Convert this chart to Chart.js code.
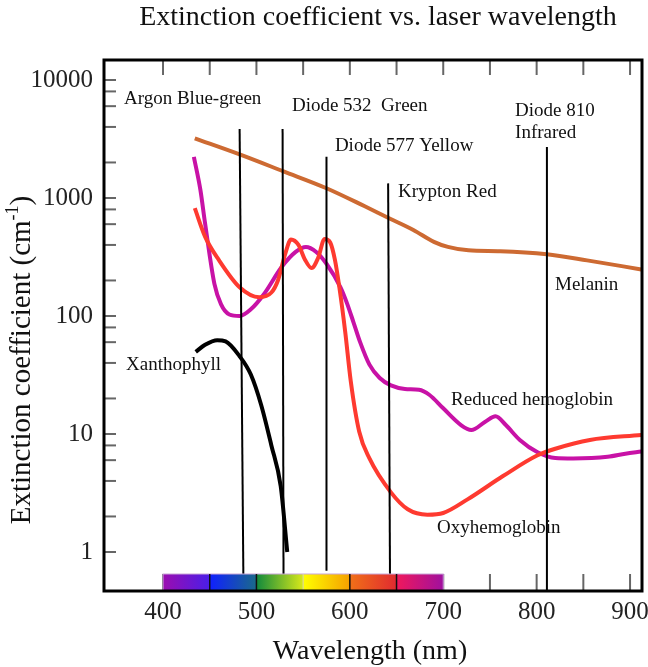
<!DOCTYPE html>
<html><head><meta charset="utf-8">
<script src="https://cdn.jsdelivr.net/npm/chart.js@4.4.1/dist/chart.umd.min.js"></script>
<style>html,body{margin:0;padding:0;background:#fff;}#wrap{width:648px;height:667px;}</style>
</head><body><div id="wrap"><canvas id="c" width="648" height="667"></canvas></div>
<script>
// ---- data ----
const melaninNm  = [434, 482, 529, 575, 616, 642, 668, 690, 705, 727, 761, 811, 854, 912];
const melaninVal = [3200, 2340, 1680, 1210, 850, 673, 536, 425, 385, 360, 354, 333, 296, 248];

const oxyNm  = [434, 445, 460, 482, 503, 516, 523, 531, 537, 545, 552, 559, 566, 573, 579, 584, 589, 595, 601, 610, 621, 644, 662, 683, 700, 726, 764, 801, 820, 857, 912];
const oxyVal = [820, 470, 296, 175, 144, 158, 200, 340, 445, 400, 300, 255, 310, 450, 420, 300, 170, 74, 28, 10.5, 6.2, 3.2, 2.3, 2.07, 2.14, 2.79, 4.4, 6.6, 7.5, 8.9, 9.8];

const redNm  = [433, 440, 445, 455, 462, 471, 482, 494, 508, 527, 542, 553, 564, 575, 590, 597, 604, 611, 621, 632, 644, 659, 674, 685, 700, 719, 730, 745, 756, 767, 782, 801, 820, 839, 876, 895, 912];
const redVal = [2230, 1170, 610, 187, 126, 103, 100, 114, 153, 260, 349, 385, 349, 277, 175, 128, 88, 60, 38.7, 29.8, 25.8, 24.1, 23.7, 21.5, 16.5, 11.9, 10.8, 12.7, 14.1, 11.9, 8.9, 7.0, 6.25, 6.2, 6.4, 6.8, 7.1];

const xanNm  = [435, 445, 458, 467, 482, 494, 505, 516, 526, 533];
const xanVal = [49.6, 57, 62.4, 61, 45.6, 31.9, 17.7, 8.0, 3.6, 1.0];

const laserNames    = ['Argon Blue-green', 'Diode 532 Green', 'Diode 577 Yellow', 'Krypton Red', 'Diode 810 Infrared'];
const laserNmTop    = [482, 528, 575, 641, 811];
const laserNmBottom = [486, 529, 575, 643, 811];
const laserValTop   = [3835, 3835, 2240, 1330, 2700];
const laserValBottom= [0.65, 0.65, 0.695, 0.63, 0.47];

const spectrumEdges = [400, 450, 500, 550, 600, 650, 700];
const xTickLabels = [400, 500, 600, 700, 800, 900];
const xMinorTicks = [400, 450, 500, 550, 600, 650, 700, 750, 800, 850, 900];
const yTickLabels = [1, 10, 100, 1000, 10000];

// ---- layout ----
const xMin = 336.8, xMax = 912.8, yMin = 0.467, yMax = 14770;
const FONT = '"Liberation Serif", "Times New Roman", Times, serif';
const INK = '#111';

const pts = (xs, ys) => xs.map((v, i) => ({x: v, y: ys[i]}));
const curve = (label, xs, ys, color) => ({
  label, data: pts(xs, ys), borderColor: color, borderWidth: 4,
  pointRadius: 0, cubicInterpolationMode: 'monotone', fill: false
});

const datasets = [];
laserNames.forEach((n, i) => datasets.push({
  label: n,
  data: [{x: laserNmTop[i], y: laserValTop[i]}, {x: laserNmBottom[i], y: laserValBottom[i]}],
  borderColor: '#000', borderWidth: 2, pointRadius: 0, tension: 0, fill: false
}));
datasets.push(curve('Xanthophyll', xanNm, xanVal, '#000'));
datasets.push(curve('Oxyhemoglobin', oxyNm, oxyVal, '#fe3a30'));
datasets.push(curve('Reduced hemoglobin', redNm, redVal, '#c812a6'));
datasets.push(curve('Melanin', melaninNm, melaninVal, '#cd6a32'));

const spectrumColors = [
  ['#9b0db0', '#4a1ee8'], ['#1020ff', '#1a6a8a'], ['#128a3c', '#d8e81a'],
  ['#ffff00', '#f5a000'], ['#f07018', '#e02a30'], ['#f0185c', '#a0109e']
];
const annotations = [
  ['Argon Blue-green', 358.2, 6900], ['Diode 532  Green', 538, 6020],
  ['Diode 577 Yellow', 584, 2760], ['Krypton Red', 651.6, 1125],
  ['Diode 810', 776.9, 5460], ['Infrared', 776.9, 3550],
  ['Melanin', 819.7, 183], ['Xanthophyll', 360.4, 38.4],
  ['Reduced hemoglobin', 708.4, 19.4], ['Oxyhemoglobin', 693.4, 1.6]
];

const decor = {
  id: 'decor',
  beforeDatasetsDraw(chart) {
    const {ctx, chartArea: a, scales: {x, y}} = chart;
    ctx.save();
    ctx.strokeStyle = '#666'; ctx.lineWidth = 2;
    for (let d = 0; d <= 4; d++) {
      const base = Math.pow(10, d);
      const vals = [base];
      if (d < 4) vals.push(2 * base, 4 * base, 6 * base, 8 * base);
      vals.forEach(v => {
        const py = y.getPixelForValue(v);
        ctx.beginPath(); ctx.moveTo(a.left, py); ctx.lineTo(a.left + 12, py); ctx.stroke();
      });
    }
    xMinorTicks.forEach(v => {
      const px = x.getPixelForValue(v);
      ctx.beginPath(); ctx.moveTo(px, a.top); ctx.lineTo(px, a.top + 15); ctx.stroke();
      ctx.beginPath(); ctx.moveTo(px, a.bottom); ctx.lineTo(px, a.bottom - 17); ctx.stroke();
    });
    ctx.restore();
  },
  afterDatasetsDraw(chart) {
    const {ctx, chartArea: a, scales: {x, y}} = chart;
    ctx.save();
    const barTop = a.bottom - 17;
    for (let i = 0; i < spectrumEdges.length - 1; i++) {
      const x0 = x.getPixelForValue(spectrumEdges[i]);
      const x1 = x.getPixelForValue(spectrumEdges[i + 1]);
      const g = ctx.createLinearGradient(x0, 0, x1, 0);
      g.addColorStop(0, spectrumColors[i][0]);
      g.addColorStop(1, spectrumColors[i][1]);
      ctx.fillStyle = g;
      ctx.fillRect(x0, barTop, x1 - x0 + 0.5, a.bottom - barTop);
    }
    ctx.strokeStyle = '#c9a6d8'; ctx.lineWidth = 1;
    ctx.strokeRect(x.getPixelForValue(400), barTop, x.getPixelForValue(700) - x.getPixelForValue(400), a.bottom - barTop);
    [450, 500, 600, 650].forEach(v => {
      const px = x.getPixelForValue(v);
      ctx.strokeStyle = '#111'; ctx.lineWidth = 1.5;
      ctx.beginPath(); ctx.moveTo(px, barTop); ctx.lineTo(px, a.bottom); ctx.stroke();
    });
    {
      const px = x.getPixelForValue(550);
      ctx.strokeStyle = '#d8d8b0'; ctx.lineWidth = 1;
      ctx.beginPath(); ctx.moveTo(px, barTop); ctx.lineTo(px, a.bottom); ctx.stroke();
    }
    ctx.strokeStyle = '#000'; ctx.lineWidth = 3;
    ctx.strokeRect(a.left, a.top, a.right - a.left, a.bottom - a.top);
    ctx.fillStyle = INK;
    ctx.font = '19px ' + FONT;
    ctx.textAlign = 'left'; ctx.textBaseline = 'middle';
    annotations.forEach(([t, nm, v]) => ctx.fillText(t, x.getPixelForValue(nm), y.getPixelForValue(v)));
    ctx.textAlign = 'center';
    ctx.font = '28px ' + FONT;
    ctx.fillText('Extinction coefficient vs. laser wavelength', 378, 18);
    ctx.fillText('Wavelength (nm)', 370, 652);
    ctx.translate(22, 360);
    ctx.rotate(-Math.PI / 2);
    const t1 = 'Extinction coefficient (cm', t2 = '-1', t3 = ')';
    ctx.font = '29px ' + FONT; const w1 = ctx.measureText(t1).width, w3 = ctx.measureText(t3).width;
    ctx.font = '18px ' + FONT; const w2 = ctx.measureText(t2).width;
    let sx = -(w1 + w2 + w3) / 2;
    ctx.textAlign = 'left';
    ctx.font = '29px ' + FONT; ctx.fillText(t1, sx, 0); sx += w1;
    ctx.font = '18px ' + FONT; ctx.fillText(t2, sx, -9); sx += w2;
    ctx.font = '29px ' + FONT; ctx.fillText(t3, sx, 0);
    ctx.restore();
  }
};

new Chart(document.getElementById('c'), {
  type: 'line',
  data: {datasets},
  plugins: [decor],
  options: {
    responsive: false, animation: false,
    layout: {padding: {top: 60, right: 6, left: 0, bottom: 0}},
    plugins: {legend: {display: false}, tooltip: {enabled: false}, title: {display: false}},
    scales: {
      x: {
        type: 'linear', min: xMin, max: xMax,
        grid: {display: false, drawTicks: false}, border: {display: false},
        afterBuildTicks: s => { s.ticks = xTickLabels.map(v => ({value: v})); },
        afterFit: s => { s.height = 76; s.paddingLeft = 0; s.paddingRight = 0; },
        ticks: {font: {family: FONT, size: 25}, color: '#222', padding: 6, maxRotation: 0, autoSkip: false,
                callback: v => String(v)}
      },
      y: {
        type: 'logarithmic', min: yMin, max: yMax,
        grid: {display: false, drawTicks: false}, border: {display: false},
        afterBuildTicks: s => { s.ticks = yTickLabels.map(v => ({value: v})); },
        afterFit: s => { s.width = 104; s.paddingTop = 0; s.paddingBottom = 0; },
        ticks: {font: {family: FONT, size: 25}, color: '#222', padding: 11, autoSkip: false,
                callback: v => String(v)}
      }
    }
  }
});
</script></body></html>
